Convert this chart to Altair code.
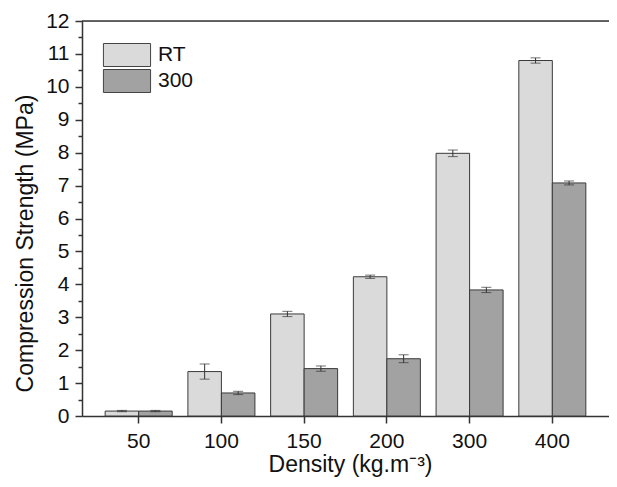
import altair as alt
import pandas as pd

density = ["50", "100", "150", "200", "300", "400"]
series = ["RT", "300"]
rt_values = [0.15, 1.35, 3.10, 4.23, 7.98, 10.80]
rt_errors = [0.02, 0.23, 0.08, 0.05, 0.10, 0.08]
t300_values = [0.15, 0.70, 1.44, 1.74, 3.83, 7.08]
t300_errors = [0.02, 0.05, 0.08, 0.12, 0.08, 0.06]
y_ticks = [i * 0.5 for i in range(25)]

rows = []
for s, vals, errs in [("RT", rt_values, rt_errors), ("300", t300_values, t300_errors)]:
    for d, v, e in zip(density, vals, errs):
        rows.append(dict(density=d, series=s, value=v, lo=v - e, hi=v + e))
df = pd.DataFrame(rows)

FONT = "Liberation Sans"
AX = "#333333"
TXT = "#111111"
Y_TITLE = "Compression Strength (MPa)"
X_TITLE = "Density (kg.m⁻³)"

xscale = alt.Scale(domain=density, paddingInner=0.19, paddingOuter=0.28)
yscale = alt.Scale(domain=[0, 12], nice=False, zero=True)

x_axis = alt.Axis(labelAngle=0, labelFont=FONT, labelFontSize=21, labelPadding=7,
                  tickSize=7, tickColor=AX, tickWidth=1.5, domainColor=AX, domainWidth=1.5,
                  labelColor=TXT, titleFont=FONT, titleFontSize=23, titleX=268,
                  titleFontWeight="normal", titleColor=TXT, titlePadding=2)

y_axis = alt.Axis(
    values=y_ticks, labelExpr="datum.value % 1 ? '' : '' + datum.value", labelOverlap=False,
    tickSize={"condition": {"test": "datum.value % 1 != 0", "value": 4}, "value": 7},
    grid=False, labelFont=FONT, labelFontSize=21, labelPadding=6, labelColor=TXT,
    titleFont=FONT, titleFontSize=23, titleFontWeight="normal", titleColor=TXT,
    titlePadding=8, titleY=222, domainColor=AX, tickColor=AX, domainWidth=1.5, tickWidth=1.5,
)


def xenc():
    return alt.X("density:N", scale=xscale, sort=density, title=X_TITLE, axis=x_axis)


def yenc(field):
    return alt.Y(field, scale=yscale, axis=y_axis, title=Y_TITLE)


xoff = alt.XOffset("series:N", sort=series,
                   scale=alt.Scale(domain=series, paddingInner=0, paddingOuter=0))

legend = alt.Legend(
    orient="none", legendX=33, legendY=22, title=None,
    symbolType="M-2.05,-1H2.05V1H-2.05Z", symbolSize=529,
    symbolStrokeColor="#444444", symbolStrokeWidth=1, symbolOpacity=1,
    labelFont=FONT, labelFontSize=21, labelColor=TXT, labelOffset=19,
    rowPadding=-3, padding=0,
)

base = alt.Chart(df)

bars = base.mark_bar(stroke="#3a3a3a", strokeWidth=1, opacity=1).encode(
    x=xenc(),
    xOffset=xoff,
    y=yenc("value:Q"),
    color=alt.Color("series:N", sort=series,
                    scale=alt.Scale(domain=series, range=["#dadada", "#a2a2a2"]),
                    legend=legend),
)

err_rule = base.mark_rule(color=AX, strokeWidth=1).encode(
    x=xenc(), xOffset=xoff, y=yenc("lo:Q"), y2="hi:Q",
)
cap_lo = base.mark_tick(color=AX, size=10, thickness=1).encode(
    x=xenc(), xOffset=xoff, y=yenc("lo:Q"),
)
cap_hi = base.mark_tick(color=AX, size=10, thickness=1).encode(
    x=xenc(), xOffset=xoff, y=yenc("hi:Q"),
)

top_border = alt.Chart(pd.DataFrame({"top": [12]})).mark_rule(
    color=AX, strokeWidth=1.5
).encode(y=yenc("top:Q"))

chart = alt.layer(bars, err_rule, cap_lo, cap_hi, top_border).properties(
    width=527, height=395,
    autosize=alt.AutoSizeParams(type="none"),
    padding={"left": 74, "top": 13, "right": 0, "bottom": 62},
).configure_view(stroke=None).configure(font=FONT)

chart.save("out.html", embed_options={"renderer": "svg", "actions": False})
